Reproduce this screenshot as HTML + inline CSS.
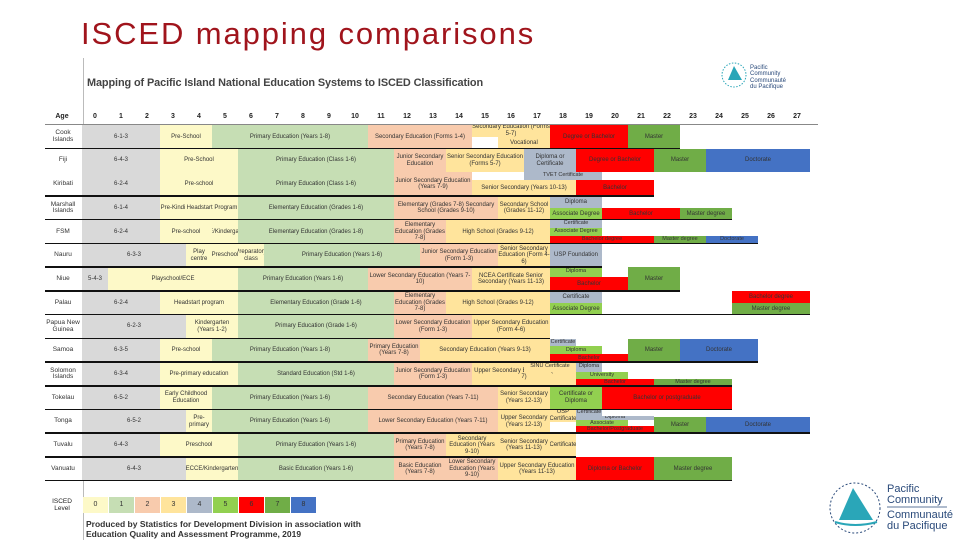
<!DOCTYPE html>
<html><head><meta charset="utf-8">
<style>
body{margin:0;width:960px;height:540px;overflow:hidden;background:#fff;font-family:"Liberation Sans",sans-serif;position:relative}
.c{position:absolute;display:flex;align-items:center;justify-content:center;text-align:center;font-size:6px;line-height:6.5px;color:#333;overflow:hidden;box-sizing:border-box}
.t{position:absolute;font-size:7px;color:#222;text-align:center}
.ln{position:absolute;height:1.5px;background:#111}
</style></head><body>
<div style="position:absolute;left:81px;top:16px;font-size:31px;line-height:36px;color:#a0141c;letter-spacing:1.9px">ISCED mapping comparisons</div>
<div style="position:absolute;left:83px;top:58px;width:1px;height:482px;background:#bbb"></div>
<div style="position:absolute;left:87px;top:77px;font-size:10.9px;color:#444;font-weight:bold;letter-spacing:-0.1px">Mapping of Pacific Island National Education Systems to ISCED Classification</div>
<div id="grid"></div>
<div class="t" style="left:44px;top:498px;width:36px;font-size:6.5px">ISCED<br>Level</div>
<div id="legend"></div>
<div style="position:absolute;left:86px;top:519px;font-size:8.5px;font-weight:bold;color:#333;line-height:10px">Produced by Statistics for Development Division in association with<br>Education Quality and Assessment Programme, 2019</div>
<svg style="position:absolute;left:720px;top:60px" width="80" height="32">
<circle cx="14" cy="15" r="12" fill="none" stroke="#2aa6b8" stroke-dasharray="1.5 1.5"/>
<polygon points="8,20 14,6 22,20" fill="#2aa6b8"/>
<text x="30" y="9" font-size="6" fill="#2a4a7a" font-family="Liberation Sans">Pacific</text>
<text x="30" y="15" font-size="6" fill="#2a4a7a" font-family="Liberation Sans">Community</text>
<text x="30" y="22" font-size="6" fill="#2a4a7a" font-family="Liberation Sans">Communauté</text>
<text x="30" y="28" font-size="6" fill="#2a4a7a" font-family="Liberation Sans">du Pacifique</text>
</svg>
<svg style="position:absolute;left:825px;top:478px" width="135" height="62">
<circle cx="30" cy="30" r="25" fill="none" stroke="#2a4a7a" stroke-dasharray="2 2"/>
<polygon points="14,42 28,10 48,42" fill="#2aa6b8"/>
<path d="M10 44 Q30 50 52 44" stroke="#2aa6b8" stroke-width="2" fill="none"/>
<text x="62" y="14" font-size="11" fill="#2a4a7a" font-family="Liberation Sans">Pacific</text>
<text x="62" y="25" font-size="11" fill="#2a4a7a" font-family="Liberation Sans">Community</text>
<line x1="62" y1="29" x2="122" y2="29" stroke="#2a4a7a" stroke-width="0.7"/>
<text x="62" y="40" font-size="11" fill="#2a4a7a" font-family="Liberation Sans">Communauté</text>
<text x="62" y="51" font-size="11" fill="#2a4a7a" font-family="Liberation Sans">du Pacifique</text>
</svg>
<script>
const ages=[0,1,2,3,4,5,6,7,8,9,10,11,12,13,14,15,16,17,18,19,20,21,22,23,24,25,26,27];
const countries=["Cook Islands","Fiji","Kiribati","Marshall Islands","FSM","Nauru","Niue","Palau","Papua New Guinea","Samoa","Solomon Islands","Tokelau","Tonga","Tuvalu","Vanuatu"];
const legendLevels=[0,1,2,3,4,5,6,7,8];
const lineEnds=[23,28,22,25,26,20,23,28,18,26,25,25,28,19,25];
const separated=[1,0,1,1,1,1,1,1,1,1,1,1,1,1,1];
// [row, ageStart, ageEnd, level(-1 grey), text, yFrom, yTo]
const cells=[
[0,0,3,-1,"6-1-3",0,1],[0,3,5,0,"Pre-School",0,1],[0,5,11,1,"Primary Education (Years 1-8)",0,1],[0,11,15,2,"Secondary Education (Forms 1-4)",0,1],[0,15,18,3,"Secondary Education (Forms 5-7)",0,0.5],[0,16,18,3,"Vocational",0.5,1],[0,18,21,6,"Degree or Bachelor",0,1],[0,21,23,7,"Master",0,1],
[1,0,3,-1,"6-4-3",0,1],[1,3,6,0,"Pre-School",0,1],[1,6,12,1,"Primary Education (Class 1-6)",0,1],[1,12,14,2,"Junior Secondary Education",0,1],[1,14,17,3,"Senior Secondary Education (Forms 5-7)",0,1],[1,17,19,4,"Diploma or Certificate",0,1],[1,19,22,6,"Degree or Bachelor",0,1],[1,22,24,7,"Master",0,1],[1,24,28,8,"Doctorate",0,1],
[2,0,3,-1,"6-2-4",0,1],[2,3,6,0,"Pre-school",0,1],[2,6,12,1,"Primary Education (Class 1-6)",0,1],[2,12,15,2,"Junior Secondary Education (Years 7-9)",0,1],[2,15,19,3,"Senior Secondary (Years 10-13)",0.3,1],[2,17,20,4,"TVET Certificate",0,0.3],[2,19,22,6,"Bachelor",0.3,1],
[3,0,3,-1,"6-1-4",0,1],[3,3,4,0,"Pre-Kindi",0,1],[3,4,6,0,"Headstart Program",0,1],[3,6,12,1,"Elementary Education (Grades 1-6)",0,1],[3,12,16,2,"Elementary (Grades 7-8) Secondary School (Grades 9-10)",0,1],[3,16,18,3,"Secondary School (Grades 11-12)",0,1],[3,18,20,4,"Diploma",0,0.5],[3,18,20,5,"Associate Degree",0.5,1],[3,20,23,6,"Bachelor",0.5,1],[3,23,25,7,"Master degree",0.5,1],
[4,0,3,-1,"6-2-4",0,1],[4,3,5,0,"Pre-school",0,1],[4,5,6,0,"ECE/Kindergarten",0,1],[4,6,12,1,"Elementary Education (Grades 1-8)",0,1],[4,12,14,2,"Elementary Education (Grades 7-8)",0,1],[4,14,18,3,"High School (Grades 9-12)",0,1],[4,18,20,4,"Certificate",0,0.33],[4,18,20,5,"Associate Degree",0.33,0.66],[4,18,22,6,"Bachelor degree",0.66,1],[4,22,24,7,"Master degree",0.66,1],[4,24,26,8,"Doctorate",0.66,1],
[5,0,4,-1,"6-3-3",0,1],[5,4,5,0,"Play centre",0,1],[5,5,6,0,"Preschool",0,1],[5,6,7,0,"Preparatory class",0,1],[5,7,13,1,"Primary Education (Years 1-6)",0,1],[5,13,16,2,"Junior Secondary Education (Form 1-3)",0,1],[5,16,18,3,"Senior Secondary Education (Form 4-6)",0,1],[5,18,20,4,"USP Foundation",0,1],
[6,0,1,-1,"5-4-3",0,1],[6,1,6,0,"Playschool/ECE",0,1],[6,6,11,1,"Primary Education (Years 1-6)",0,1],[6,11,15,2,"Lower Secondary Education (Years 7-10)",0,1],[6,15,18,3,"NCEA Certificate Senior Secondary (Years 11-13)",0,1],[6,18,20,5,"Diploma",0,0.4],[6,18,21,6,"Bachelor",0.4,1],[6,21,23,7,"Master",0,1],
[7,0,3,-1,"6-2-4",0,1],[7,3,6,0,"Headstart program",0,1],[7,6,12,1,"Elementary Education (Grade 1-6)",0,1],[7,12,14,2,"Elementary Education (Grades 7-8)",0,1],[7,14,18,3,"High School (Grades 9-12)",0,1],[7,18,20,4,"Certificate",0,0.5],[7,18,20,5,"Associate Degree",0.5,1],[7,25,28,6,"Bachelor degree",0,0.5],[7,25,28,7,"Master degree",0.5,1],
[8,0,4,-1,"6-2-3",0,1],[8,4,6,0,"Kindergarten (Years 1-2)",0,1],[8,6,12,1,"Primary Education (Grade 1-6)",0,1],[8,12,15,2,"Lower Secondary Education (Form 1-3)",0,1],[8,15,18,3,"Upper Secondary Education (Form 4-6)",0,1],
[9,0,3,-1,"6-3-5",0,1],[9,3,5,0,"Pre-school",0,1],[9,5,11,1,"Primary Education (Years 1-8)",0,1],[9,11,13,2,"Primary Education (Years 7-8)",0,1],[9,13,18,3,"Secondary Education (Years 9-13)",0,1],[9,18,19,4,"Certificate",0,0.33],[9,18,20,5,"Diploma",0.33,0.66],[9,18,21,6,"Bachelor",0.66,1],[9,21,23,7,"Master",0,1],[9,23,26,8,"Doctorate",0,1],
[10,0,3,-1,"6-3-4",0,1],[10,3,6,0,"Pre-primary education",0,1],[10,6,12,1,"Standard Education (Std 1-6)",0,1],[10,12,15,2,"Junior Secondary Education (Form 1-3)",0,1],[10,15,19,3,"Upper Secondary Education (Form 4-7)",0,1],[10,17,19,3,"SINU Certificate",0,0.4],[10,19,20,4,"Diploma",0,0.4],[10,19,21,5,"University",0.4,0.7],[10,19,22,6,"Bachelor",0.7,1],[10,22,25,7,"Master degree",0.7,1],
[11,0,3,-1,"6-5-2",0,1],[11,3,5,0,"Early Childhood Education",0,1],[11,5,11,1,"Primary Education (Years 1-6)",0,1],[11,11,16,2,"Secondary Education (Years 7-11)",0,1],[11,16,18,3,"Senior Secondary (Years 12-13)",0,1],[11,18,20,5,"Certificate or Diploma",0,1],[11,20,25,6,"Bachelor or postgraduate",0,1],
[12,0,4,-1,"6-5-2",0,1],[12,4,5,0,"Pre-primary",0,1],[12,5,11,1,"Primary Education (Years 1-6)",0,1],[12,11,16,2,"Lower Secondary Education (Years 7-11)",0,1],[12,16,18,3,"Upper Secondary (Years 12-13)",0,1],[12,18,19,3,"USP Certificate",0,0.5],[12,19,20,4,"Certificate",0,0.25],[12,19,22,4,"Diploma",0.25,0.45],[12,19,21,5,"Associate",0.45,0.7],[12,19,22,6,"Bachelor/Postgraduate",0.7,1],[12,22,24,7,"Master",0.3,1],[12,24,28,8,"Doctorate",0.3,1],
[13,0,3,-1,"6-4-3",0,1],[13,3,6,0,"Preschool",0,1],[13,6,12,1,"Primary Education (Years 1-6)",0,1],[13,12,14,2,"Primary Education (Years 7-8)",0,1],[13,14,16,3,"Secondary Education (Years 9-10)",0,1],[13,16,18,3,"Senior Secondary (Years 11-13)",0,1],[13,18,19,3,"Certificate",0,1],
[14,0,4,-1,"6-4-3",0,1],[14,4,6,0,"ECCE/Kindergarten",0,1],[14,6,12,1,"Basic Education (Years 1-6)",0,1],[14,12,14,2,"Basic Education (Years 7-8)",0,1],[14,14,16,2,"Lower Secondary Education (Years 9-10)",0,1],[14,16,19,3,"Upper Secondary Education (Years 11-13)",0,1],[14,19,22,6,"Diploma or Bachelor",0,1],[14,22,25,7,"Master degree",0,1]
];
const colors={"-1":"#d9d9d9","0":"#fdf9c8","1":"#c6deb4","2":"#f8cbad","3":"#ffe49c","4":"#adb9ca","5":"#92d050","6":"#ff0000","7":"#70ad47","8":"#4472c4"};
function xAge(a){return 82+a*26;}
function yRow(r){return 125+r*23.73;}
const RH=23.73;
const g=document.getElementById('grid');
let h=document.createElement('div');h.className='t';h.style.left='44px';h.style.top='113px';h.style.width='36px';h.style.fontWeight='bold';h.textContent='Age';


g.appendChild(h);
ages.forEach(a=>{const d=document.createElement('div');d.className='t';d.style.left=xAge(a)+'px';d.style.width='26px';d.style.top='113px';d.style.fontWeight='bold';d.textContent=a;


g.appendChild(d);});
const hl=document.createElement('div');hl.style.cssText='position:absolute;left:45px;top:124px;width:773px;height:1px;background:#888';


g.appendChild(hl);
countries.forEach((c,i)=>{const d=document.createElement('div');d.className='c';d.style.left='45px';d.style.width='36px';d.style.top=yRow(i)+'px';d.style.height=RH+'px';d.style.fontSize='6.5px';d.textContent=c;


g.appendChild(d);});
cells.forEach(k=>{const d=document.createElement('div');d.className='c';
const y0=yRow(k[0])+k[5]*RH,y1=yRow(k[0])+k[6]*RH;
d.style.left=xAge(k[1])+'px';d.style.width=(xAge(k[2])-xAge(k[1]))+'px';d.style.top=y0+'px';d.style.height=(y1-y0)+'px';
d.style.background=colors[k[3]];d.textContent=k[4];
if(k[6]-k[5]<0.5){d.style.fontSize='5.5px';d.style.lineHeight='5.5px';}


g.appendChild(d);});
countries.forEach((c,i)=>{if(!separated[i])return;const l=document.createElement('div');l.className='ln';l.style.left='45px';l.style.top=(yRow(i+1)-1)+'px';l.style.width=(xAge(lineEnds[i])-45)+'px';


g.appendChild(l);});
const lg=document.getElementById('legend');
legendLevels.forEach((v,i)=>{const d=document.createElement('div');d.className='c';d.style.left=(83+i*26)+'px';d.style.width='25px';d.style.top='497px';d.style.height='16px';d.style.background=colors[v];d.style.fontSize='7px';d.textContent=v;


lg.appendChild(d);});
</script>
</body></html>
